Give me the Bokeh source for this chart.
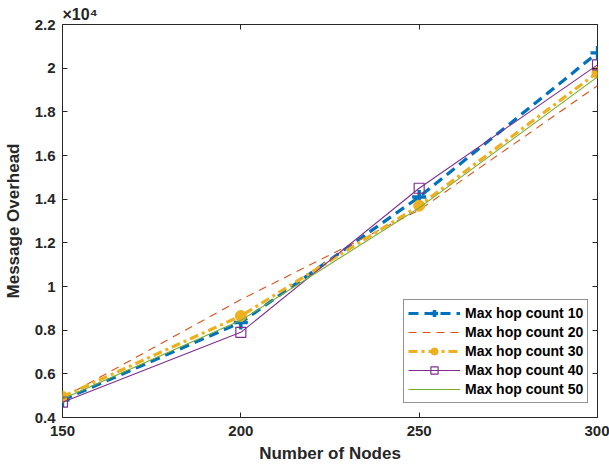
from bokeh.plotting import figure
from bokeh.models import Legend, LegendItem, FixedTicker, LinearAxis, Range1d
from bokeh.embed import file_html
from bokeh.resources import INLINE

# ---- data ----
nodes = [150, 200, 250, 300]
hop10 = [4800, 8350, 14100, 20700]
hop20 = [4900, 9400, 13500, 19200]
hop30 = [4950, 8650, 13700, 19800]
hop40 = [4700, 7900, 14500, 20150]
hop50 = [4850, 8450, 13600, 19600]
series_labels = ["Max hop count 10", "Max hop count 20", "Max hop count 30",
                 "Max hop count 40", "Max hop count 50"]
x_ticks = [150, 200, 250, 300]
y_ticks = [4000, 6000, 8000, 10000, 12000, 14000, 16000, 18000, 20000, 22000]
y_tick_labels = ["0.4", "0.6", "0.8", "1", "1.2", "1.4", "1.6", "1.8", "2", "2.2"]
exponent_label = "×10⁴"

FONT = "Liberation Sans"
AX = "#262626"

p = figure(width=609, height=471, x_range=Range1d(150, 300), y_range=Range1d(4000, 22000),
           output_backend="svg", toolbar_location=None,
           min_border_left=62, min_border_right=12, min_border_top=24, min_border_bottom=54)
p.xgrid.visible = False
p.ygrid.visible = False
p.outline_line_color = AX
p.outline_line_width = 1
p.background_fill_color = "white"
p.border_fill_color = "white"

p.title.text = exponent_label
p.title.align = "left"
p.title.offset = 0
p.title.standoff = 3
p.title.text_font = FONT
p.title.text_font_style = "bold"
p.title.text_font_size = "16px"
p.title.text_color = AX

def style_axis(ax, show_labels=True):
    ax.axis_line_color = None
    ax.major_tick_in = 5
    ax.major_tick_out = 0
    ax.minor_tick_line_color = None
    ax.major_tick_line_color = AX
    ax.major_tick_line_width = 1
    ax.major_label_text_font = FONT
    ax.major_label_text_font_style = "bold"
    if show_labels:
        ax.major_label_text_color = AX
        ax.major_label_text_font_size = "15px"
    else:
        ax.major_label_text_color = None
        ax.major_label_text_font_size = "0px"
    ax.axis_label_text_font = FONT
    ax.axis_label_text_font_style = "bold"
    ax.axis_label_text_font_size = "17px"
    ax.axis_label_text_color = AX

xa = p.xaxis[0]
ya = p.yaxis[0]
xa.ticker = FixedTicker(ticks=x_ticks)
ya.ticker = FixedTicker(ticks=y_ticks)
ya.major_label_overrides = {t: s for t, s in zip(y_ticks, y_tick_labels)}
style_axis(xa)
style_axis(ya)
xa.axis_label = "Number of Nodes"
ya.axis_label = "Message Overhead"
xa.major_label_standoff = 8
xa.axis_label_standoff = 5
ya.major_label_standoff = 7
ya.axis_label_standoff = 9

top = LinearAxis(ticker=FixedTicker(ticks=x_ticks))
right = LinearAxis(ticker=FixedTicker(ticks=y_ticks))
for a in (top, right):
    style_axis(a, show_labels=False)
    a.major_label_standoff = 0
p.add_layout(top, "above")
p.add_layout(right, "right")

BLUE, ORANGE, YELLOW, PURPLE, GREEN = "#0072BD", "#D95319", "#EDB120", "#7E2F8E", "#77AC30"

l10 = p.line(nodes, hop10, line_color=BLUE, line_width=3.2, line_dash="10 6")
s10 = p.scatter(nodes, hop10, marker="cross", size=14, line_color=BLUE, line_width=3.4)
l20 = p.line(nodes, hop20, line_color=ORANGE, line_width=1.1, line_dash="8 6")
l30 = p.line(nodes, hop30, line_color=YELLOW, line_width=3.2, line_dash="9 4 3 4")
s30 = p.scatter(nodes, hop30, marker="circle", size=11, fill_color=YELLOW, line_color=YELLOW)
l40 = p.line(nodes, hop40, line_color=PURPLE, line_width=1.1)
s40 = p.scatter(nodes, hop40, marker="square", size=10, fill_color=None, line_color=PURPLE, line_width=1.2)
l50 = p.line(nodes, hop50, line_color=GREEN, line_width=1.1)

items = [
    LegendItem(label=series_labels[0], renderers=[l10, s10]),
    LegendItem(label=series_labels[1], renderers=[l20]),
    LegendItem(label=series_labels[2], renderers=[l30, s30]),
    LegendItem(label=series_labels[3], renderers=[l40, s40]),
    LegendItem(label=series_labels[4], renderers=[l50]),
]
legend = Legend(items=items, location=(341, 14))
legend.label_text_font = FONT
legend.label_text_font_style = "bold"
legend.label_text_font_size = "14px"
legend.label_text_color = "black"
legend.border_line_color = AX
legend.border_line_width = 1
legend.background_fill_color = "white"
legend.background_fill_alpha = 1
legend.glyph_width = 52
legend.glyph_height = 18
legend.label_height = 18
legend.spacing = 1
legend.padding = 4
legend.margin = 0
legend.label_standoff = 5
p.add_layout(legend)

open("out.html", "w").write(file_html(p, INLINE))
